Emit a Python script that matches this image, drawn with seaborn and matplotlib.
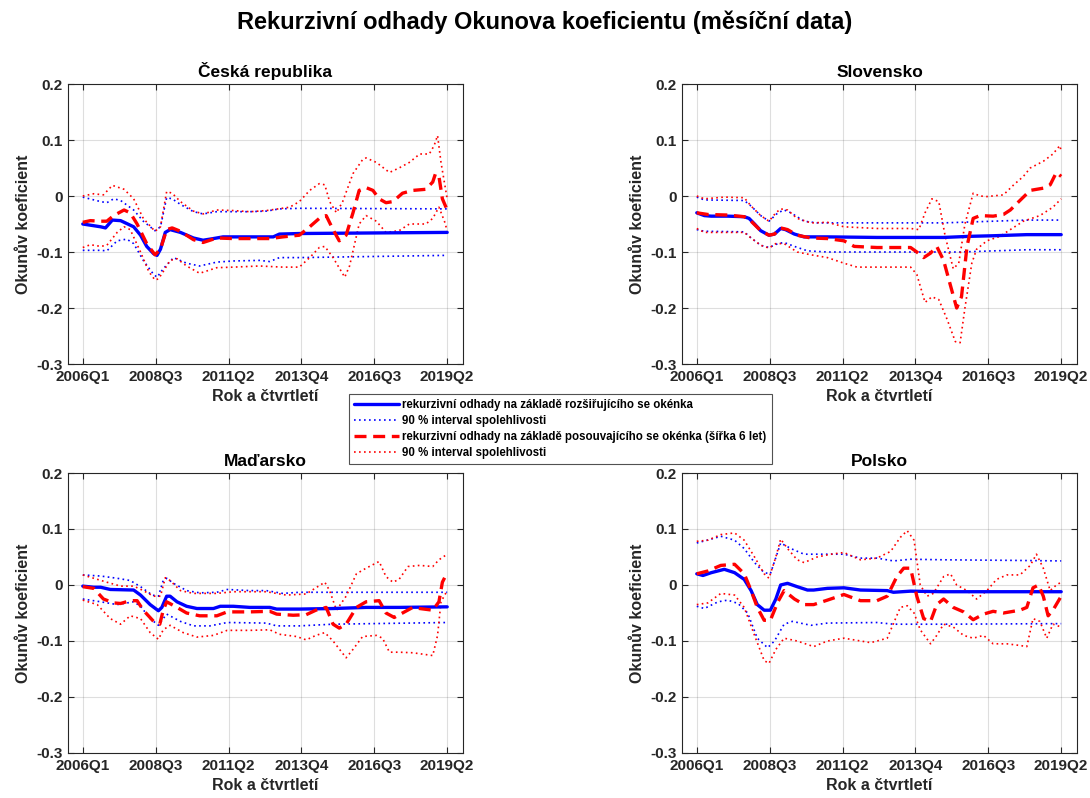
import numpy as np
import matplotlib
matplotlib.use("Agg")
import matplotlib.pyplot as plt
import seaborn as sns
from matplotlib.lines import Line2D

sns.set_style("ticks")
plt.rcParams['font.family'] = ['Liberation Sans', 'DejaVu Sans']
plt.rcParams['font.weight'] = 'bold'

FIG_TITLE = "Rekurzivní odhady Okunova koeficientu (měsíční data)"
COUNTRIES = ["Česká republika", "Slovensko", "Maďarsko", "Polsko"]
TICK_LABELS = ["2006Q1", "2008Q3", "2011Q2", "2013Q4", "2016Q3", "2019Q2"]
Y_TICKS = [-0.3, -0.2, -0.1, 0.0, 0.1, 0.2]
Y_TICK_LABELS = ["-0.3", "-0.2", "-0.1", "0", "0.1", "0.2"]
X_LABEL = "Rok a čtvrtletí"
Y_LABEL = "Okunův koeficient"
LEGEND_LABELS = [
    "rekurzivní odhady na základě rozšiřujícího se okénka",
    "90 % interval spolehlivosti",
    "rekurzivní odhady na základě posouvajícího se okénka (šířka 6 let)",
    "90 % interval spolehlivosti",
]
# x = quarters since 2006Q1 (2019Q2 = 53)
T_END = 53

# ---------------- Česká republika ----------------
cz_exp_t = [0, 2.6, 3.3, 4.3, 5.5, 7.4, 8.4, 9.3, 10.3, 10.8, 11.3, 12.0, 12.7, 14.2, 16.1, 17.5, 19.0, 20.4, 27.7, 28.6, 31.5, 53]
cz_exp = [-0.050, -0.055, -0.057, -0.043, -0.044, -0.055, -0.070, -0.090, -0.103, -0.106, -0.095, -0.065, -0.060, -0.065, -0.075, -0.079, -0.076, -0.073, -0.073, -0.068, -0.067, -0.065]
cz_exp_hi_t = [0, 2.6, 3.5, 4.5, 5.5, 7.4, 8.8, 10.5, 11.3, 12.2, 13.0, 14.2, 16.1, 17.5, 19.5, 21.9, 24.3, 26.7, 28.6, 31.5, 53]
cz_exp_hi = [-0.002, -0.010, -0.012, -0.005, -0.008, -0.025, -0.045, -0.062, -0.055, -0.003, -0.005, -0.015, -0.028, -0.032, -0.028, -0.028, -0.028, -0.027, -0.023, -0.022, -0.023]
cz_exp_lo_t = [0, 2.6, 3.5, 5.0, 6.4, 7.4, 8.8, 10.3, 10.8, 11.7, 13.2, 15.1, 17.0, 19.5, 21.9, 25.7, 27.2, 28.6, 31.5, 53]
cz_exp_lo = [-0.097, -0.097, -0.098, -0.080, -0.077, -0.085, -0.115, -0.140, -0.145, -0.130, -0.110, -0.120, -0.125, -0.118, -0.116, -0.115, -0.117, -0.110, -0.110, -0.106]
cz_roll_t = [0, 1.1, 2.6, 3.5, 4.5, 6.0, 6.9, 7.9, 9.3, 10.5, 11.3, 12.2, 13.0, 14.2, 16.1, 17.5, 19.5, 21.9, 24.3, 27.2, 29.1, 31.5, 33.0, 34.4, 35.4, 36.4, 37.3, 38.3, 39.3, 40.2, 41.2, 42.2, 43.1, 44.1, 45.1, 46.5, 48.0, 49.9, 50.9, 51.3, 51.8, 52.3, 53]
cz_roll = [-0.047, -0.044, -0.045, -0.045, -0.035, -0.025, -0.030, -0.050, -0.085, -0.105, -0.095, -0.060, -0.057, -0.063, -0.078, -0.083, -0.075, -0.076, -0.076, -0.076, -0.073, -0.070, -0.055, -0.040, -0.035, -0.060, -0.080, -0.070, -0.030, 0.010, 0.015, 0.010, -0.005, -0.012, -0.010, 0.005, 0.010, 0.012, 0.025, 0.040, 0.035, -0.005, -0.025]
cz_roll_hi_t = [0, 1.6, 3.0, 4.3, 6.0, 7.4, 8.8, 10.5, 11.3, 12.2, 13.0, 14.2, 16.1, 17.5, 19.5, 21.9, 24.3, 26.7, 30.1, 31.5, 33.0, 34.4, 35.2, 35.9, 36.9, 37.8, 39.3, 40.7, 41.2, 42.7, 44.6, 46.0, 47.5, 49.0, 50.4, 51.1, 51.6, 52.1, 53]
cz_roll_hi = [0.000, 0.004, 0.002, 0.019, 0.012, -0.005, -0.040, -0.063, -0.055, 0.008, 0.005, -0.010, -0.027, -0.032, -0.025, -0.026, -0.028, -0.026, -0.020, -0.010, 0.010, 0.022, 0.020, -0.010, -0.030, -0.010, 0.040, 0.065, 0.068, 0.060, 0.042, 0.050, 0.060, 0.075, 0.075, 0.090, 0.108, 0.060, -0.005]
cz_roll_lo_t = [0, 1.1, 2.6, 3.5, 5.0, 6.0, 6.9, 8.4, 9.6, 10.5, 11.0, 11.7, 12.7, 13.7, 15.1, 17.0, 19.5, 21.9, 25.7, 29.1, 31.5, 33.0, 34.4, 35.2, 36.4, 38.1, 38.8, 40.2, 41.2, 42.7, 44.1, 46.0, 47.5, 49.9, 50.9, 51.8, 52.6, 53]
cz_roll_lo = [-0.092, -0.087, -0.090, -0.088, -0.065, -0.055, -0.060, -0.100, -0.135, -0.150, -0.148, -0.135, -0.115, -0.112, -0.125, -0.138, -0.128, -0.127, -0.125, -0.127, -0.127, -0.110, -0.092, -0.090, -0.110, -0.145, -0.125, -0.050, -0.035, -0.045, -0.065, -0.062, -0.050, -0.050, -0.040, -0.020, -0.045, -0.062]

# ---------------- Slovensko ----------------
sk_exp_t = [0, 1.1, 2.1, 4.5, 6.9, 7.6, 8.4, 9.3, 10.5, 11.3, 12.2, 12.9, 14.2, 15.6, 19.0, 26.2, 35.9, 39.8, 43.1, 48.0, 53]
sk_exp = [-0.030, -0.035, -0.036, -0.036, -0.037, -0.040, -0.050, -0.062, -0.070, -0.068, -0.058, -0.060, -0.068, -0.073, -0.073, -0.074, -0.074, -0.072, -0.071, -0.069, -0.069]
sk_exp_hi_t = [0, 1.1, 6.9, 7.9, 9.3, 10.5, 11.8, 12.7, 13.7, 15.6, 17.5, 26.2, 35.9, 40.7, 48.0, 53]
sk_exp_hi = [-0.002, -0.007, -0.008, -0.018, -0.035, -0.045, -0.030, -0.025, -0.030, -0.045, -0.048, -0.048, -0.048, -0.046, -0.043, -0.043]
sk_exp_lo_t = [0, 1.1, 6.9, 7.9, 9.3, 10.5, 11.8, 12.7, 14.2, 16.1, 19.0, 31.1, 38.3, 43.1, 48.0, 53]
sk_exp_lo = [-0.060, -0.063, -0.064, -0.075, -0.088, -0.092, -0.085, -0.083, -0.090, -0.098, -0.100, -0.100, -0.100, -0.098, -0.096, -0.096]
sk_roll_t = [0, 1.6, 4.5, 6.9, 7.9, 9.3, 10.5, 11.3, 12.2, 13.2, 14.6, 16.6, 19.0, 21.4, 22.9, 26.2, 31.1, 32.0, 33.0, 34.0, 34.9, 35.9, 36.9, 37.8, 38.5, 39.3, 40.2, 41.2, 43.1, 44.6, 45.6, 47.0, 48.5, 50.4, 51.4, 52.3, 53]
sk_roll = [-0.030, -0.033, -0.034, -0.037, -0.045, -0.062, -0.070, -0.068, -0.057, -0.060, -0.070, -0.075, -0.076, -0.080, -0.090, -0.092, -0.092, -0.100, -0.110, -0.102, -0.090, -0.115, -0.160, -0.200, -0.180, -0.090, -0.040, -0.035, -0.036, -0.033, -0.025, -0.008, 0.010, 0.014, 0.020, 0.042, 0.035]
sk_roll_hi_t = [0, 1.1, 4.0, 6.9, 7.9, 9.3, 10.5, 11.5, 12.2, 13.2, 14.6, 16.6, 19.0, 21.4, 26.2, 31.1, 32.3, 33.2, 34.2, 35.2, 36.1, 37.3, 38.1, 39.0, 40.2, 41.2, 42.2, 44.6, 46.1, 47.5, 48.5, 50.4, 51.8, 52.8, 53]
sk_roll_hi = [0.000, -0.005, -0.002, -0.003, -0.018, -0.035, -0.045, -0.030, -0.023, -0.025, -0.040, -0.048, -0.047, -0.055, -0.058, -0.058, -0.060, -0.030, -0.005, -0.010, -0.070, -0.130, -0.120, -0.050, 0.005, 0.000, -0.001, 0.002, 0.020, 0.035, 0.050, 0.062, 0.075, 0.090, 0.080]
sk_roll_lo_t = [0, 1.1, 4.5, 6.9, 7.9, 9.3, 10.5, 11.5, 12.7, 14.6, 16.6, 19.0, 21.4, 23.3, 26.2, 31.1, 32.0, 33.2, 34.2, 35.2, 36.4, 37.6, 38.3, 39.0, 40.0, 40.7, 42.2, 44.1, 45.6, 47.5, 49.9, 51.8, 53]
sk_roll_lo = [-0.058, -0.065, -0.065, -0.065, -0.075, -0.088, -0.093, -0.085, -0.085, -0.100, -0.105, -0.110, -0.120, -0.127, -0.127, -0.127, -0.140, -0.190, -0.180, -0.185, -0.220, -0.260, -0.262, -0.200, -0.120, -0.095, -0.080, -0.072, -0.060, -0.045, -0.035, -0.020, -0.005]

# ---------------- Maďarsko ----------------
hu_exp_t = [0, 1.6, 2.6, 4.0, 7.4, 8.4, 9.8, 11.0, 11.5, 12.2, 12.7, 13.7, 15.1, 16.6, 19.0, 20.0, 21.9, 24.3, 27.2, 28.2, 31.5, 36.4, 41.2, 46.0, 53]
hu_exp = [-0.002, -0.004, -0.004, -0.008, -0.009, -0.018, -0.035, -0.046, -0.040, -0.020, -0.020, -0.030, -0.038, -0.042, -0.042, -0.038, -0.038, -0.040, -0.040, -0.043, -0.043, -0.042, -0.040, -0.040, -0.039]
hu_exp_hi_t = [0, 2.6, 5.0, 6.9, 8.4, 10.1, 11.0, 11.7, 12.2, 13.2, 15.1, 17.0, 19.5, 21.0, 24.3, 26.7, 29.1, 31.5, 36.4, 53]
hu_exp_hi = [0.018, 0.016, 0.012, 0.008, -0.003, -0.018, -0.020, 0.008, 0.012, 0.003, -0.010, -0.014, -0.013, -0.008, -0.010, -0.010, -0.015, -0.013, -0.013, -0.013]
hu_exp_lo_t = [0, 2.6, 5.0, 7.4, 8.4, 9.8, 11.0, 11.7, 12.2, 14.2, 16.1, 18.5, 21.0, 26.7, 28.2, 31.5, 36.4, 53]
hu_exp_lo = [-0.025, -0.030, -0.035, -0.030, -0.038, -0.060, -0.072, -0.060, -0.052, -0.065, -0.073, -0.073, -0.067, -0.068, -0.073, -0.073, -0.070, -0.067]
hu_roll_t = [0, 1.6, 3.0, 4.5, 5.5, 6.9, 7.9, 8.8, 10.3, 11.2, 11.7, 12.2, 13.7, 15.1, 17.0, 19.5, 21.0, 24.3, 27.2, 28.2, 30.6, 32.5, 33.9, 35.4, 36.4, 37.3, 38.3, 39.8, 41.2, 43.1, 44.1, 45.3, 46.5, 48.0, 49.0, 50.9, 51.8, 52.3, 53]
hu_roll = [-0.003, -0.006, -0.025, -0.032, -0.033, -0.028, -0.028, -0.045, -0.065, -0.070, -0.045, -0.030, -0.040, -0.050, -0.055, -0.055, -0.048, -0.048, -0.047, -0.052, -0.054, -0.053, -0.045, -0.040, -0.070, -0.077, -0.070, -0.040, -0.030, -0.028, -0.050, -0.058, -0.050, -0.040, -0.042, -0.045, -0.030, 0.005, 0.022]
hu_roll_hi_t = [0, 1.6, 3.5, 5.5, 7.4, 8.8, 10.3, 11.3, 12.0, 12.7, 14.2, 16.1, 19.5, 21.9, 26.7, 29.6, 32.5, 33.9, 35.2, 35.9, 36.9, 38.3, 39.8, 41.2, 43.1, 44.1, 45.1, 46.0, 47.3, 49.0, 50.9, 51.8, 53]
hu_roll_hi = [0.018, 0.012, 0.005, -0.002, -0.002, -0.010, -0.020, -0.020, 0.013, 0.008, -0.010, -0.015, -0.015, -0.012, -0.012, -0.018, -0.016, -0.005, 0.005, -0.010, -0.045, -0.020, 0.020, 0.030, 0.042, 0.015, 0.005, 0.010, 0.033, 0.035, 0.033, 0.045, 0.055]
hu_roll_lo_t = [0, 2.1, 4.0, 5.5, 6.9, 8.4, 9.8, 11.0, 11.7, 12.7, 14.6, 16.6, 19.0, 21.0, 24.3, 27.2, 28.6, 31.1, 32.5, 33.9, 35.2, 36.4, 38.3, 39.3, 40.7, 42.7, 43.6, 44.6, 46.0, 48.0, 50.9, 51.6, 52.1, 53]
hu_roll_lo = [-0.027, -0.035, -0.060, -0.070, -0.055, -0.060, -0.085, -0.097, -0.080, -0.072, -0.085, -0.093, -0.090, -0.081, -0.081, -0.080, -0.088, -0.092, -0.098, -0.090, -0.085, -0.100, -0.130, -0.115, -0.092, -0.090, -0.095, -0.120, -0.120, -0.121, -0.126, -0.090, -0.030, -0.010]

# ---------------- Polsko ----------------
pl_exp_t = [0, 0.9, 2.1, 4.0, 5.5, 6.9, 7.9, 8.8, 9.8, 10.7, 11.5, 12.2, 13.2, 14.6, 16.1, 17.0, 19.0, 21.4, 23.8, 27.7, 28.6, 31.1, 35.9, 45.6, 53]
pl_exp = [0.020, 0.017, 0.022, 0.028, 0.022, 0.010, -0.010, -0.035, -0.045, -0.045, -0.025, 0.000, 0.003, -0.003, -0.009, -0.009, -0.006, -0.005, -0.009, -0.010, -0.013, -0.011, -0.012, -0.012, -0.012]
pl_exp_hi_t = [0, 2.1, 3.5, 5.5, 6.9, 8.4, 9.8, 10.7, 11.8, 12.2, 13.7, 15.6, 19.0, 21.4, 23.8, 26.2, 28.6, 31.1, 35.9, 45.6, 53]
pl_exp_hi = [0.075, 0.082, 0.087, 0.080, 0.065, 0.040, 0.022, 0.020, 0.060, 0.075, 0.065, 0.055, 0.055, 0.055, 0.048, 0.048, 0.043, 0.046, 0.045, 0.044, 0.043]
pl_exp_lo_t = [0, 1.1, 3.1, 4.5, 6.0, 7.4, 8.8, 10.3, 11.3, 12.7, 13.9, 16.6, 19.0, 26.2, 28.6, 31.1, 35.9, 53]
pl_exp_lo = [-0.038, -0.042, -0.030, -0.027, -0.033, -0.050, -0.095, -0.112, -0.100, -0.070, -0.065, -0.072, -0.068, -0.067, -0.070, -0.070, -0.070, -0.069]
pl_roll_t = [0, 1.6, 3.5, 5.5, 6.9, 7.9, 8.8, 9.8, 10.7, 11.8, 12.7, 14.2, 15.6, 17.0, 19.0, 21.4, 23.8, 26.2, 27.7, 29.1, 30.1, 31.1, 32.0, 33.0, 34.0, 34.9, 35.9, 37.3, 38.8, 40.2, 41.7, 43.1, 44.6, 47.0, 48.0, 48.9, 49.7, 50.4, 51.1, 51.8, 53]
pl_roll = [0.020, 0.025, 0.035, 0.037, 0.020, -0.010, -0.040, -0.063, -0.063, -0.030, -0.010, -0.025, -0.035, -0.035, -0.027, -0.017, -0.028, -0.028, -0.020, 0.015, 0.030, 0.030, -0.020, -0.060, -0.065, -0.035, -0.025, -0.040, -0.048, -0.062, -0.052, -0.047, -0.050, -0.045, -0.040, -0.005, 0.000, -0.020, -0.055, -0.045, -0.020]
pl_roll_hi_t = [0, 1.6, 3.5, 5.5, 6.9, 8.4, 9.8, 10.5, 11.5, 12.2, 13.2, 14.6, 15.6, 17.5, 19.5, 21.4, 23.8, 26.2, 28.2, 29.6, 30.6, 31.6, 32.5, 33.5, 34.4, 35.9, 36.9, 37.8, 39.3, 40.7, 42.2, 43.6, 45.1, 47.0, 48.5, 49.4, 50.4, 51.4, 52.3, 53]
pl_roll_hi = [0.078, 0.080, 0.090, 0.093, 0.080, 0.050, 0.020, 0.012, 0.050, 0.082, 0.065, 0.045, 0.040, 0.050, 0.055, 0.058, 0.045, 0.048, 0.060, 0.085, 0.097, 0.080, 0.000, -0.020, -0.015, 0.015, 0.020, 0.000, -0.010, -0.025, -0.010, 0.010, 0.018, 0.018, 0.035, 0.055, 0.030, -0.010, 0.000, 0.005]
pl_roll_lo_t = [0, 1.6, 3.5, 5.5, 6.9, 8.4, 9.8, 10.5, 11.5, 12.7, 14.6, 17.0, 19.0, 21.4, 25.3, 27.7, 29.6, 30.6, 31.6, 32.5, 34.0, 34.9, 35.9, 37.3, 38.8, 40.2, 41.7, 43.1, 45.1, 47.0, 48.0, 48.9, 49.9, 50.9, 51.8, 53]
pl_roll_lo = [-0.035, -0.032, -0.015, -0.018, -0.040, -0.090, -0.135, -0.140, -0.115, -0.095, -0.100, -0.110, -0.100, -0.095, -0.103, -0.095, -0.040, -0.037, -0.050, -0.080, -0.105, -0.090, -0.070, -0.075, -0.090, -0.095, -0.090, -0.105, -0.105, -0.108, -0.110, -0.060, -0.065, -0.095, -0.070, -0.075]

PANELS = [
    [(cz_exp_t, cz_exp), (cz_exp_hi_t, cz_exp_hi), (cz_exp_lo_t, cz_exp_lo),
     (cz_roll_t, cz_roll), (cz_roll_hi_t, cz_roll_hi), (cz_roll_lo_t, cz_roll_lo)],
    [(sk_exp_t, sk_exp), (sk_exp_hi_t, sk_exp_hi), (sk_exp_lo_t, sk_exp_lo),
     (sk_roll_t, sk_roll), (sk_roll_hi_t, sk_roll_hi), (sk_roll_lo_t, sk_roll_lo)],
    [(hu_exp_t, hu_exp), (hu_exp_hi_t, hu_exp_hi), (hu_exp_lo_t, hu_exp_lo),
     (hu_roll_t, hu_roll), (hu_roll_hi_t, hu_roll_hi), (hu_roll_lo_t, hu_roll_lo)],
    [(pl_exp_t, pl_exp), (pl_exp_hi_t, pl_exp_hi), (pl_exp_lo_t, pl_exp_lo),
     (pl_roll_t, pl_roll), (pl_roll_hi_t, pl_roll_hi), (pl_roll_lo_t, pl_roll_lo)],
]

BLUE = (0, 0, 1)
RED = (1, 0, 0)
DARK = (0.15, 0.15, 0.15)
SOLID = dict(color=BLUE, linestyle='-', lw=2.4)
BDOT = dict(color=BLUE, linestyle=(0, (1, 2)), lw=1.2)
DASH = dict(color=RED, linestyle=(0, (3.6, 2.0)), lw=2.4)
RDOT = dict(color=RED, linestyle=(0, (1, 2)), lw=1.2)
STYLES = [SOLID, BDOT, BDOT, DASH, RDOT, RDOT]
ORDER = [1, 2, 4, 5, 0, 3]  # draw intervals first, estimates on top

fig = plt.figure(figsize=(10.9, 7.98), dpi=100)
W, H = 1090.0, 798.0
boxes = [(68, 84), (682, 84), (68, 473), (682, 473)]
aw, ah = 395, 280

for i, (name, series) in enumerate(zip(COUNTRIES, PANELS)):
    x0, y0 = boxes[i]
    ax = fig.add_axes([x0 / W, 1 - (y0 + ah) / H, aw / W, ah / H])
    for k in ORDER:
        t, v = series[k]
        sns.lineplot(x=t, y=v, ax=ax, estimator=None, sort=False, **STYLES[k])
    ax.set_xlim(-2.15, T_END + 2.3)
    ax.set_ylim(-0.3, 0.2)
    ax.set_xticks(np.linspace(0, T_END, 6))
    ax.set_xticklabels(TICK_LABELS)
    ax.set_yticks(Y_TICKS)
    ax.set_yticklabels(Y_TICK_LABELS)
    ax.grid(True, color=DARK, alpha=0.15, lw=0.8)
    ax.tick_params(direction='in', top=True, right=True, length=4, width=0.8,
                   color=DARK, labelcolor=DARK, labelsize=11, pad=4)
    for lab in ax.get_xticklabels() + ax.get_yticklabels():
        lab.set_fontweight('bold')
    for s in ax.spines.values():
        s.set_color(DARK)
        s.set_linewidth(0.8)
    ax.set_title(name, fontsize=12.5, fontweight='bold', pad=5, color='black')
    ax.set_xlabel(X_LABEL, fontsize=11.5, fontweight='bold', color=DARK, labelpad=4)
    ax.set_ylabel(Y_LABEL, fontsize=11.5, fontweight='bold', color=DARK, labelpad=4)

handles = [Line2D([], [], **SOLID), Line2D([], [], **BDOT),
           Line2D([], [], **DASH), Line2D([], [], **RDOT)]
leg = fig.legend(handles, LEGEND_LABELS, loc='center', bbox_to_anchor=(560.5 / W, 1 - 429 / H),
                 prop=dict(weight='bold', size=8.3), frameon=True, fancybox=False,
                 edgecolor=DARK, handlelength=3.9, handletextpad=0.25, labelspacing=0.36,
                 borderpad=0.45, borderaxespad=0)
leg.get_frame().set_linewidth(0.8)
for txt in leg.get_texts():
    txt.set_color('black')

fig.suptitle(FIG_TITLE, x=0.5, y=1 - 22 / H, va='center', fontsize=17, fontweight='bold', color='black')

fig.savefig("out.png", dpi=100)
